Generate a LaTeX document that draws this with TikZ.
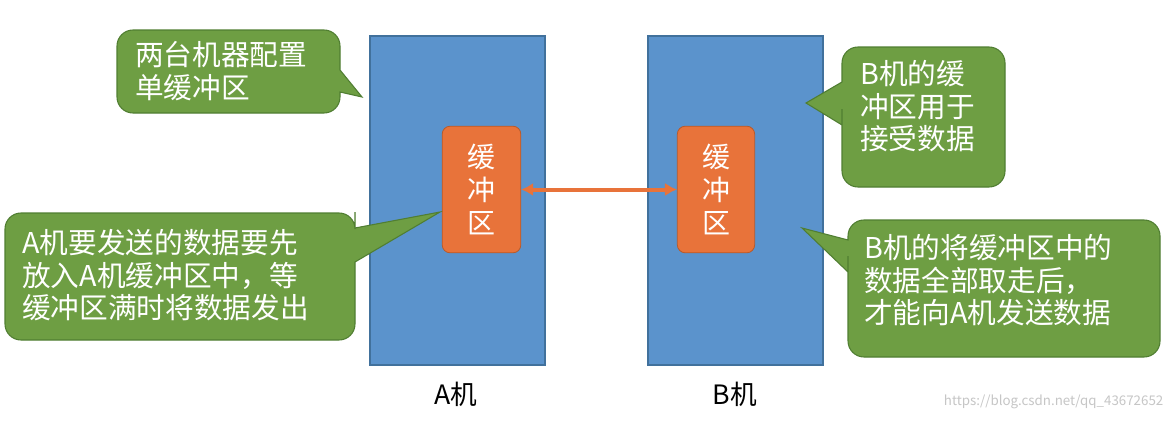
\documentclass[tikz,border=0pt]{standalone}
\usepackage{fontspec}
\setmainfont{Noto Sans CJK SC}
\usetikzlibrary{arrows.meta}
\begin{document}
\begin{tikzpicture}[x=0.75pt,y=-0.75pt,
  blk/.style={fill=blueA,draw=blueB,line width=0.8pt},
  buf/.style={fill=orangeA,draw=orangeB,rounded corners=6pt,line width=0.6pt},
  call/.style={fill=greenA,draw=greenB,line width=0.8pt},
  txt/.style={text=white,font=\fontsize{21.5}{24.5}\selectfont,align=left,anchor=north west,inner sep=0pt},
  lab/.style={font=\fontsize{20}{22}\selectfont}]
\definecolor{blueA}{HTML}{5B93CC}\definecolor{blueB}{HTML}{41719C}
\definecolor{orangeA}{HTML}{E8733A}\definecolor{orangeB}{HTML}{B85A2A}
\definecolor{greenA}{HTML}{6E9E43}\definecolor{greenB}{HTML}{507E32}
\useasboundingbox (0,0) rectangle (1176,421);
\fill[white] (0,0) rectangle (1176,421);
\draw[blk] (370,36) rectangle (545,365);
\draw[blk] (648,36) rectangle (823,365);
\node[buf,minimum width=59pt,minimum height=95pt,inner sep=0pt] (bufA) at (481.5,189.5) {};
\node[buf,minimum width=58pt,minimum height=95pt,inner sep=0pt] (bufB) at (716,189.5) {};
\node[text=white,font=\fontsize{21}{25}\selectfont,align=center] at (bufA) {缓\\冲\\区};
\node[text=white,font=\fontsize{21}{25}\selectfont,align=center] at (bufB) {缓\\冲\\区};
\draw[orangeA,line width=3pt,<->,>={Latex[length=9pt,width=10pt]}] (bufA.east) -- (bufB.west);
% callouts
\draw[call,rounded corners=12pt] (117,30) -- (340,30) -- (340,70) [sharp corners] -- (340,70) -- (362,97) -- (340,92) [rounded corners=12pt] -- (340,113) -- (117,113) -- cycle;
\draw[call,rounded corners=12pt] (842,47) -- (1005,47) -- (1005,187) -- (842,187) -- (842,125) [sharp corners] -- (842,125) -- (806,103) -- (842,82) [rounded corners=12pt] -- cycle;
\draw[call,rounded corners=12pt] (5,213) -- (355,213) -- (355,228) [sharp corners] -- (355,228) -- (440,212) -- (355,262) [rounded corners=12pt] -- (355,340) -- (5,340) -- cycle;
\draw[call,rounded corners=12pt] (848,220) -- (1160,220) -- (1160,357) -- (848,357) -- (848,272) [sharp corners] -- (848,272) -- (802,228) -- (848,240) [rounded corners=12pt] -- cycle;
\node[txt] (t1) at (135,41) {两台机器配置\\单缓冲区};
\node[txt] (t2) at (860,60) {B机的缓\\冲区用于\\接受数据};
\node[txt] (t3) at (22,229) {A机要发送的数据要先\\放入A机缓冲区中，等\\缓冲区满时将数据发出};
\node[txt] (t4) at (864,234) {B机的将缓冲区中的\\数据全部取走后，\\才能向A机发送数据};
\node[lab] (la) at (456,394) {A机};
\node[lab] (lb) at (735,394) {B机};
\node[text=gray!45,font=\fontsize{10}{12}\selectfont,anchor=east] (wm) at (1168,402) {https://blog.csdn.net/qq\_43672652};
\end{tikzpicture}
\end{document}
